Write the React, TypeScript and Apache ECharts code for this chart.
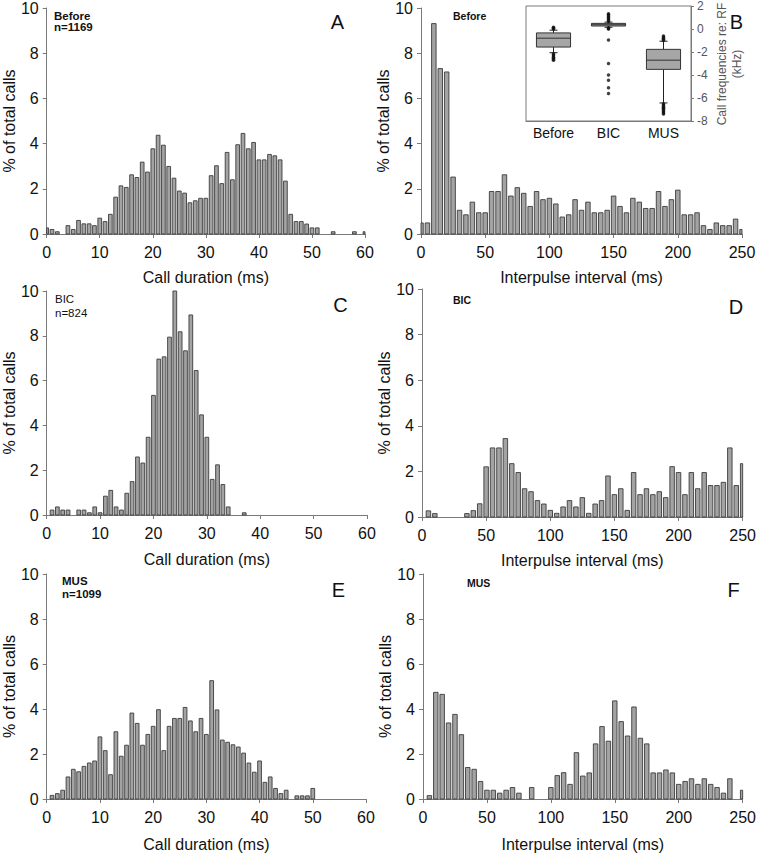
import React, { useEffect, useRef } from "react";
import * as echarts from "echarts";

// ---- Data (percent of total calls) ----
// Call duration histograms, 1-ms bins, bin value x = index (0..60)
const durationBefore = [
  0.27, 0.2, 0.1, 0, 0.37, 0.2, 0.6, 0.45, 0.45, 0.37, 0.7, 0.55, 0.87, 1.63, 2.13, 2.06, 2.62, 2.5, 3.18, 2.74,
  3.77, 4.37, 3.93, 2.99, 2.47, 1.9, 1.81, 1.38, 1.47, 1.58, 1.58, 2.58, 3.02, 2.23, 3.61, 2.4, 3.95, 4.45, 3.77, 4.05,
  3.28, 3.28, 3.52, 3.46, 3.28, 2.34, 0.87, 0.55, 0.55, 0.44, 0.27, 0.27, 0, 0, 0.1, 0, 0, 0, 0.1, 0, 0.1,
];
const durationBIC = [
  0, 0.22, 0.36, 0.22, 0.22, 0, 0.22, 0.22, 0.1, 0.36, 0.1, 0.84, 1.1, 0.36, 0.22, 0.97, 1.49, 2.59, 2.32, 3.47,
  5.34, 6.96, 7.06, 7.94, 10.0, 8.18, 7.33, 8.93, 6.45, 4.47, 3.47, 1.59, 2.24, 1.36, 0.36, 0, 0, 0.1, 0, 0,
  0, 0, 0, 0, 0, 0, 0, 0, 0, 0, 0, 0, 0, 0, 0, 0, 0, 0, 0, 0, 0,
];
const durationMUS = [
  0, 0.16, 0.24, 0.39, 0.98, 1.32, 1.21, 1.45, 1.6, 1.69, 2.76, 2.15, 1.08, 2.99, 1.9, 2.39, 3.82, 3.36, 2.39, 2.87,
  3.23, 3.97, 2.15, 3.23, 3.58, 3.58, 4.07, 3.47, 2.99, 3.58, 2.87, 5.26, 3.96, 2.62, 2.52, 2.41, 2.31, 2.04, 1.6, 1.19,
  1.69, 0.74, 0.98, 0.47, 0.24, 0.39, 0, 0.14, 0.14, 0.14, 0.47, 0, 0, 0, 0, 0, 0, 0, 0, 0, 0,
];
// Interpulse interval histograms, 5-ms bins, bin value x = 5 * index (0..250)
const intervalBefore = [
  0.49, 0.49, 9.31, 7.32, 7.17, 2.52, 1.05, 0.85, 1.41, 0.94, 0.94, 1.88, 1.88, 2.62, 1.68, 2.05, 1.8, 1.22, 1.88, 1.52,
  1.58, 1.33, 0.75, 0.85, 1.52, 1.05, 1.41, 0.94, 0.94, 1.05, 1.68, 1.22, 0.94, 1.58, 1.41, 1.13, 1.13, 1.88, 1.22, 1.52,
  1.94, 0.85, 0.85, 0.94, 0.37, 0.2, 0.49, 0.37, 0.37, 0.66, 0.2,
];
const intervalBIC = [
  0, 0.27, 0.15, 0, 0, 0, 0, 0.15, 0.28, 0.58, 2.2, 3.03, 3.03, 3.44, 2.34, 1.95, 1.24, 1.11, 0.72, 0.57,
  0.29, 0.16, 0.44, 0.72, 0.44, 0.85, 0.16, 0.57, 0.72, 1.8, 0.98, 1.24, 0.29, 1.95, 0.98, 1.24, 0.98, 1.11, 0.85, 2.21,
  1.95, 0.98, 1.95, 1.24, 1.95, 1.38, 1.38, 1.52, 3.03, 1.38, 2.34,
];
const intervalMUS = [
  0, 0.15, 4.74, 4.65, 3.38, 3.76, 2.86, 1.4, 1.32, 0.78, 0.39, 0.39, 0.26, 0.39, 0.51, 0.26, 0, 0.51, 0, 0,
  0.51, 1.04, 1.17, 0.65, 2.06, 1.02, 1.16, 2.45, 3.22, 2.57, 4.36, 3.44, 2.8, 4.09, 2.7, 2.45, 1.16, 1.16, 1.29, 1.16,
  0.65, 0.78, 0.9, 0.65, 0.9, 0.65, 0.51, 0.26, 0.9, 0, 0.39,
];

// Inset: call frequencies re: RF (kHz)
const boxCategories = ["Before", "BIC", "MUS"];
// [low whisker, Q1, median, Q3, high whisker]
const boxBefore = [-2.06, -1.57, -0.8, -0.34, -0.1];
const boxBIC = [0.15, 0.26, 0.37, 0.49, 0.6];
const boxMUS = [-6.43, -3.51, -2.71, -1.77, -1.06];
const outliersBefore = [0.0, 0.05, 0.1, 0.15, -2.15, -2.25, -2.35, -2.45, -2.55, -2.65, -2.72];
const outliersBIC = [0.65, 0.75, 0.85, 0.95, 1.05, 1.15, 1.25, 1.32, 0.1, 0.05, 0.0, -0.95, -3.0, -4.0, -4.45, -5.1, -5.6];
const outliersMUS = [-1.0, -0.9, -0.8, -0.7, -0.6, -6.5, -6.6, -6.7, -6.8, -6.9, -7.0, -7.1, -7.2, -7.3, -7.4];

const FONT = "'Liberation Sans', Arial, sans-serif";
const AXIS_COLOR = "#7a7a7a";
const BAR_FILL = "#a3a3a3";
const BAR_STROKE = "#3c3c3c";

function histSeries(gridIndex: number, binWidth: number, values: number[]) {
  return {
    type: "custom",
    xAxisIndex: gridIndex,
    yAxisIndex: gridIndex,
    data: values.map((v, i) => [i * binWidth, v]),
    renderItem: (params: any, api: any) => {
      const x = api.value(0);
      const v = api.value(1);
      if (!v) return null;
      const half = binWidth * 0.35;
      const p0 = api.coord([x - half, v]);
      const p1 = api.coord([x + half, 0]);
      const cs = params.coordSys;
      const shape = echarts.graphic.clipRectByRect(
        { x: p0[0], y: p0[1], width: p1[0] - p0[0], height: p1[1] - p0[1] },
        { x: cs.x, y: cs.y, width: cs.width, height: cs.height }
      );
      if (!shape) return null;
      return {
        type: "rect",
        shape,
        style: { fill: BAR_FILL, stroke: BAR_STROKE, lineWidth: 0.9 },
      };
    },
  };
}

function xAxisFor(gridIndex: number, max: number, interval: number, name: string, nameGap: number) {
  return {
    type: "value",
    gridIndex,
    min: 0,
    max,
    interval,
    name,
    nameLocation: "middle",
    nameGap,
    nameTextStyle: { fontFamily: FONT, fontSize: 16, color: "#111" },
    axisLine: { show: true, lineStyle: { color: AXIS_COLOR, width: 1 } },
    axisTick: { show: true, length: 4, lineStyle: { color: AXIS_COLOR } },
    axisLabel: { fontFamily: FONT, fontSize: 16, color: "#111", margin: 10 },
    splitLine: { show: false },
  };
}

function yAxisFor(gridIndex: number, nameGap: number) {
  return {
    type: "value",
    gridIndex,
    min: 0,
    max: 10,
    interval: 2,
    name: "% of total calls",
    nameLocation: "middle",
    nameGap,
    nameTextStyle: { fontFamily: FONT, fontSize: 16, color: "#111" },
    axisLine: { show: true, lineStyle: { color: AXIS_COLOR, width: 1 } },
    axisTick: { show: true, length: 4, lineStyle: { color: AXIS_COLOR } },
    axisLabel: { fontFamily: FONT, fontSize: 16, color: "#111", margin: 8 },
    splitLine: { show: false },
  };
}

function txt(x: number, y: number, text: string, fontSize: number, weight: string, align = "left") {
  return {
    type: "text",
    x,
    y,
    style: {
      text,
      fontFamily: FONT,
      fontSize,
      fontWeight: weight,
      fill: "#111",
      textAlign: align,
      verticalAlign: "middle",
    },
  };
}

export default function App() {
  const ref = useRef<HTMLDivElement>(null);

  useEffect(() => {
    if (!ref.current) return;
    const chart = echarts.init(ref.current, null, { renderer: "svg" });

    const boxData = [boxBefore, boxBIC, boxMUS].map((b, i) => [i, ...b]);
    const outlierData: number[][] = [];
    [outliersBefore, outliersBIC, outliersMUS].forEach((arr, i) => arr.forEach((v) => outlierData.push([i, v])));

    const option: any = {
      animation: false,
      backgroundColor: "#ffffff",
      grid: [
        { left: 42, top: 7, width: 323, height: 227 },
        { left: 421, top: 7, width: 321, height: 227 },
        { left: 46, top: 291, width: 321, height: 224 },
        { left: 422, top: 289, width: 324, height: 228 },
        { left: 43, top: 574, width: 323, height: 225 },
        { left: 423, top: 574, width: 320, height: 225 },
        { left: 526, top: 5, width: 165, height: 116, show: true, borderColor: AXIS_COLOR, borderWidth: 1, backgroundColor: "#fff" },
      ],
      xAxis: [
        xAxisFor(0, 60, 10, "Call duration (ms)", 35),
        xAxisFor(1, 250, 50, "Interpulse interval (ms)", 35),
        xAxisFor(2, 60, 10, "Call duration (ms)", 36),
        xAxisFor(3, 250, 50, "Interpulse interval (ms)", 35),
        xAxisFor(4, 60, 10, "Call duration (ms)", 37),
        xAxisFor(5, 250, 50, "Interpulse interval (ms)", 37),
        {
          type: "category",
          gridIndex: 6,
          data: boxCategories,
          axisLine: { show: true, onZero: false, lineStyle: { color: AXIS_COLOR } },
          axisTick: { show: false },
          axisLabel: { fontFamily: FONT, fontSize: 14, color: "#111", margin: 5 },
        },
      ],
      yAxis: [
        yAxisFor(0, 23),
        yAxisFor(1, 25),
        yAxisFor(2, 27),
        yAxisFor(3, 26),
        yAxisFor(4, 29),
        yAxisFor(5, 28),
        {
          type: "value",
          gridIndex: 6,
          position: "right",
          min: -8,
          max: 2,
          interval: 2,
          axisLine: { show: true, lineStyle: { color: AXIS_COLOR } },
          axisTick: { show: true, length: 3, lineStyle: { color: AXIS_COLOR } },
          axisLabel: { fontFamily: FONT, fontSize: 12, color: "#555", margin: 6 },
          splitLine: { show: false },
        },
      ],
      series: [
        histSeries(0, 1, durationBefore),
        histSeries(1, 5, intervalBefore),
        histSeries(2, 1, durationBIC),
        histSeries(3, 5, intervalBIC),
        histSeries(4, 1, durationMUS),
        histSeries(5, 5, intervalMUS),
        {
          type: "custom",
          xAxisIndex: 6,
          yAxisIndex: 6,
          data: boxData,
          renderItem: (params: any, api: any) => {
            const ci = api.value(0);
            const pLow = api.coord([ci, api.value(1)]);
            const yQ1 = api.coord([ci, api.value(2)])[1];
            const yMed = api.coord([ci, api.value(3)])[1];
            const yQ3 = api.coord([ci, api.value(4)])[1];
            const yHigh = api.coord([ci, api.value(5)])[1];
            const cx = pLow[0];
            const yLow = pLow[1];
            const bw = api.size([1, 0])[0] * 0.62;
            const cap = 8;
            const ls = { stroke: "#222", lineWidth: 1 };
            return {
              type: "group",
              children: [
                { type: "line", shape: { x1: cx, y1: yLow, x2: cx, y2: yQ1 }, style: ls },
                { type: "line", shape: { x1: cx, y1: yQ3, x2: cx, y2: yHigh }, style: ls },
                { type: "line", shape: { x1: cx - cap / 2, y1: yLow, x2: cx + cap / 2, y2: yLow }, style: ls },
                { type: "line", shape: { x1: cx - cap / 2, y1: yHigh, x2: cx + cap / 2, y2: yHigh }, style: ls },
                {
                  type: "rect",
                  shape: { x: cx - bw / 2, y: yQ3, width: bw, height: Math.max(yQ1 - yQ3, 2) },
                  style: { fill: "#a6a6a6", stroke: "#333", lineWidth: 1 },
                },
                { type: "line", shape: { x1: cx - bw / 2, y1: yMed, x2: cx + bw / 2, y2: yMed }, style: { stroke: "#333", lineWidth: 1 } },
              ],
            };
          },
        },
        {
          type: "scatter",
          xAxisIndex: 6,
          yAxisIndex: 6,
          data: outlierData,
          symbol: "circle",
          symbolSize: 3.5,
          itemStyle: { color: "#111" },
        },
      ],
      graphic: [
        txt(337.5, 22, "A", 20, "normal", "center"),
        txt(736.5, 22, "B", 20, "normal", "center"),
        txt(340.5, 304.5, "C", 20, "normal", "center"),
        txt(736, 307, "D", 20, "normal", "center"),
        txt(338.5, 589.5, "E", 20, "normal", "center"),
        txt(733.5, 590, "F", 20, "normal", "center"),
        txt(54, 16, "Before", 11.5, "bold"),
        txt(54, 27, "n=1169", 11.5, "bold"),
        txt(453, 15.5, "Before", 10.5, "bold"),
        txt(55, 298.5, "BIC", 11.5, "normal"),
        txt(55, 312.5, "n=824", 11.5, "normal"),
        txt(453, 300, "BIC", 10.5, "bold"),
        txt(62, 581, "MUS", 11.5, "bold"),
        txt(62, 594, "n=1099", 11.5, "bold"),
        txt(467, 583, "MUS", 10.5, "bold"),
        {
          type: "text",
          x: 729,
          y: 64,
          rotation: Math.PI / 2,
          style: {
            text: "Call frequencies re: RF\n(kHz)",
            fontFamily: FONT,
            fontSize: 12,
            lineHeight: 15,
            fill: "#555",
            textAlign: "center",
            verticalAlign: "middle",
          },
        },
      ],
    };

    chart.setOption(option);
    return () => chart.dispose();
  }, []);

  return <div ref={ref} style={{ position: "absolute", left: 0, top: 0, width: 759, height: 853 }} />;
}
